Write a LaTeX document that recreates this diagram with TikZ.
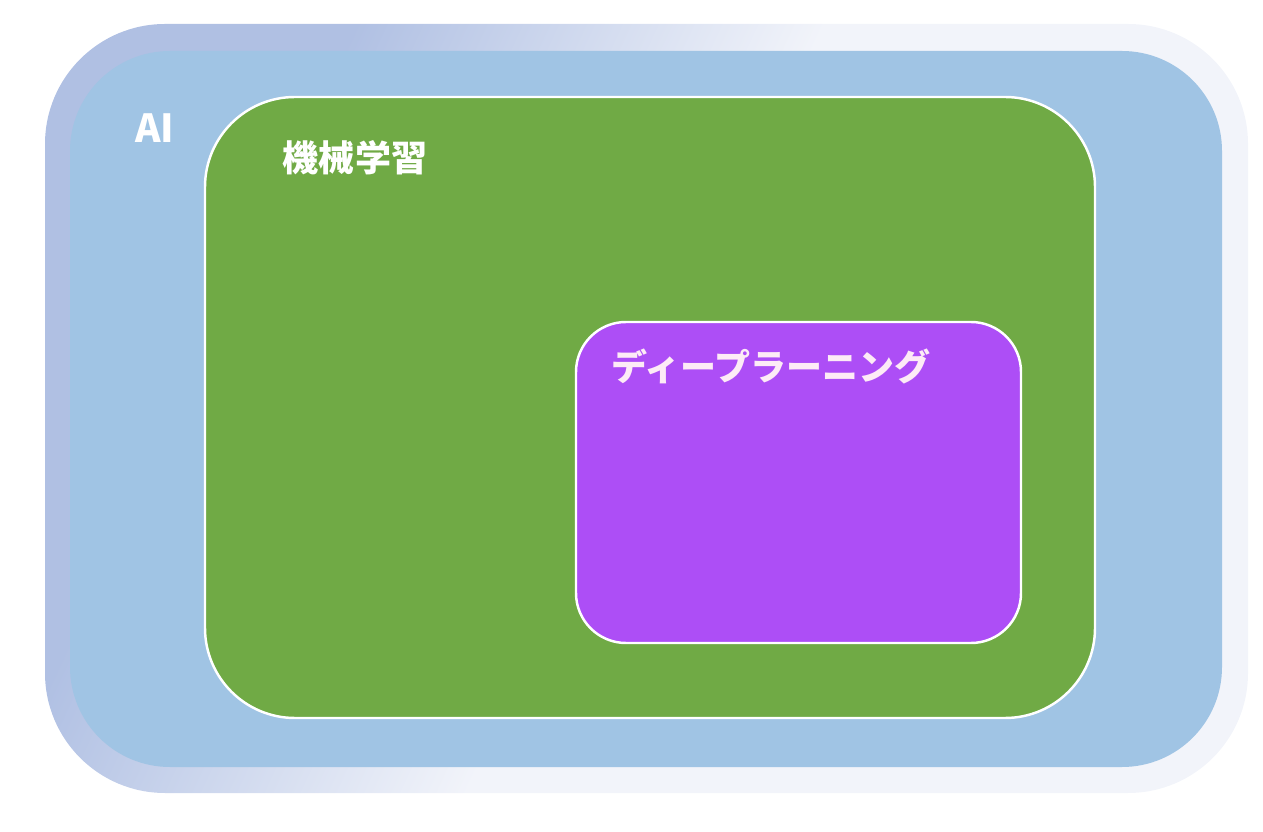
\documentclass[tikz,border=0pt]{standalone}
\usepackage{fontspec}
\setmainfont{Noto Sans CJK JP}
\usetikzlibrary{positioning}
\definecolor{ringL}{HTML}{B0C0E3}
\definecolor{ringR}{HTML}{F2F4FA}
\definecolor{aiblue}{HTML}{A0C4E4}
\definecolor{mlgreen}{HTML}{70AA45}
\definecolor{dlpurple}{HTML}{AD4EF6}
\pgfdeclarehorizontalshading{ringfade}{100bp}{color(0bp)=(ringL); color(30bp)=(ringL); color(50bp)=(ringR); color(100bp)=(ringR)}

\begin{document}
\begin{tikzpicture}[area/.style={rectangle, inner sep=0pt},
  lbl/.style={text=white, font=\fontsize{20.5}{24}\selectfont\bfseries, inner sep=0pt}]
\useasboundingbox (0,0) rectangle (25.26,-16.64);
\node[area, shading=ringfade, shading angle=-25, rounded corners=2.4cm, minimum width=24.06cm, minimum height=15.38cm](ring) at (12.93,-8.17){};
\node[area, fill=aiblue, rounded corners=2cm, minimum width=23.04cm, minimum height=14.32cm](ai) at (12.92,-8.18){};
\node[area, fill=mlgreen, draw=white, line width=1.4pt, rounded corners=1.8cm, minimum width=17.8cm, minimum height=12.42cm](ml) at (13.0,-8.15){};
\node[area, fill=dlpurple, draw=white, line width=1.4pt, rounded corners=1cm, minimum width=8.9cm, minimum height=6.42cm](dl) at (15.97,-9.65){};
\node[lbl, font=\fontsize{22}{26}\selectfont\bfseries](ailbl) at (3.1,-2.56){AI};
\node[lbl](mllbl) at (7.1,-3.16){機械学習};
\node[lbl, text=white!92!magenta](dllbl) at (15.42,-7.32){ディープラーニング};
\end{tikzpicture}
\end{document}
